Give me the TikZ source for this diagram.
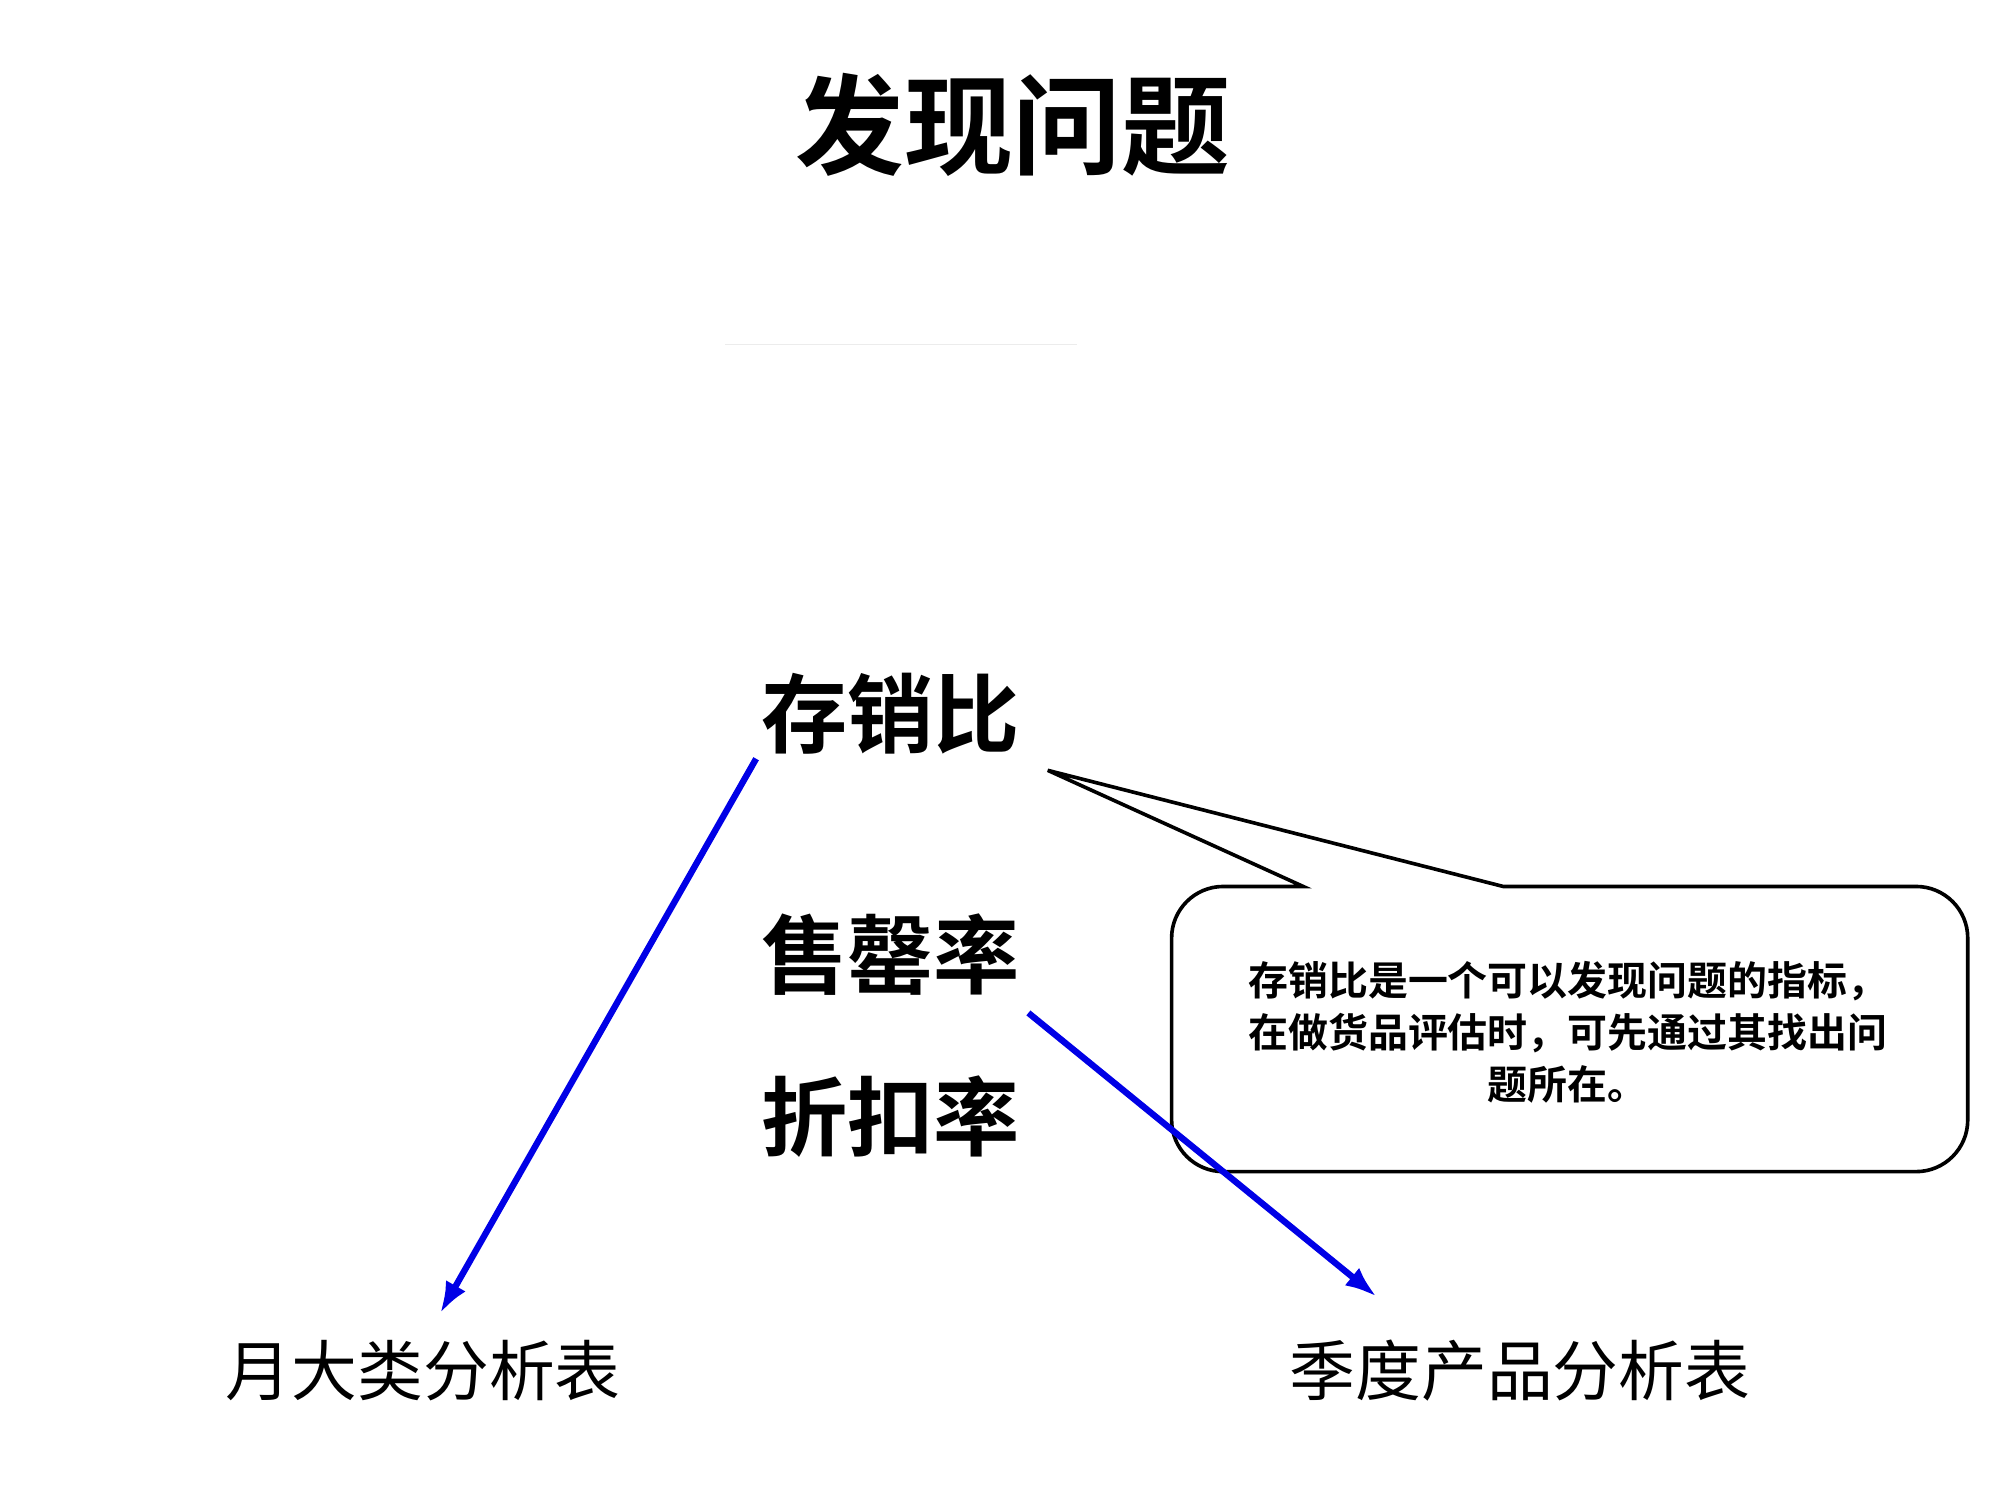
\documentclass[tikz,border=0pt]{standalone}
\usepackage{fontspec}
\newfontfamily\cjk{Noto Sans CJK SC}
\newfontfamily\cjkb{Noto Sans CJK SC Bold}
\usetikzlibrary{arrows.meta}
\tikzset{
  big/.style={font=\cjkb\fontsize{19pt}{22pt}\selectfont, inner sep=0pt},
  tbl/.style={font=\cjk\fontsize{14.5pt}{17pt}\selectfont, inner sep=0pt},
  barrow/.style={draw={rgb,255:red,0;green,0;blue,230}, line width=1.4pt, -{Latex[length=7pt,width=5pt]}}
}
\begin{document}
\begin{tikzpicture}[x=0.01cm,y=-0.01cm]
\useasboundingbox (0,0) rectangle (1550,1162.5);
\node[font=\cjkb\fontsize{24pt}{30pt}\selectfont, inner sep=0pt] (title) at (785,97) {发现问题};
\draw[gray!15] (562,267) -- (835,267);
\node[big] (cxb) at (690,553) {存销比};
\node[big] (sql) at (690,740) {售罄率};
\node[big] (zkl) at (690,865) {折扣率};
\node[tbl] (ydl) at (328,1062) {月大类分析表};
\node[tbl] (jdcp) at (1178,1062) {季度产品分析表};
\draw[line width=0.8pt] (1165,687) [rounded corners=0.4cm] -- (1525,687) -- (1525,908) -- (908,908) -- (908,687) [sharp corners] -- (1010,687) -- (812,597) -- cycle;
\node[font=\cjkb\fontsize{8.8pt}{11.5pt}\selectfont, align=center, inner sep=0pt] (note) at (1215,800) {存销比是一个可以发现问题的指标，\\在做货品评估时，可先通过其找出问\\题所在。};
\coordinate (a1) at (586,588);
\coordinate (a2) at (341,1018);
\coordinate (b1) at (797,785);
\coordinate (b2) at (1067,1005);
\draw[barrow] (a1) -- (a2);
\draw[barrow] (b1) -- (b2);
\end{tikzpicture}
\end{document}
